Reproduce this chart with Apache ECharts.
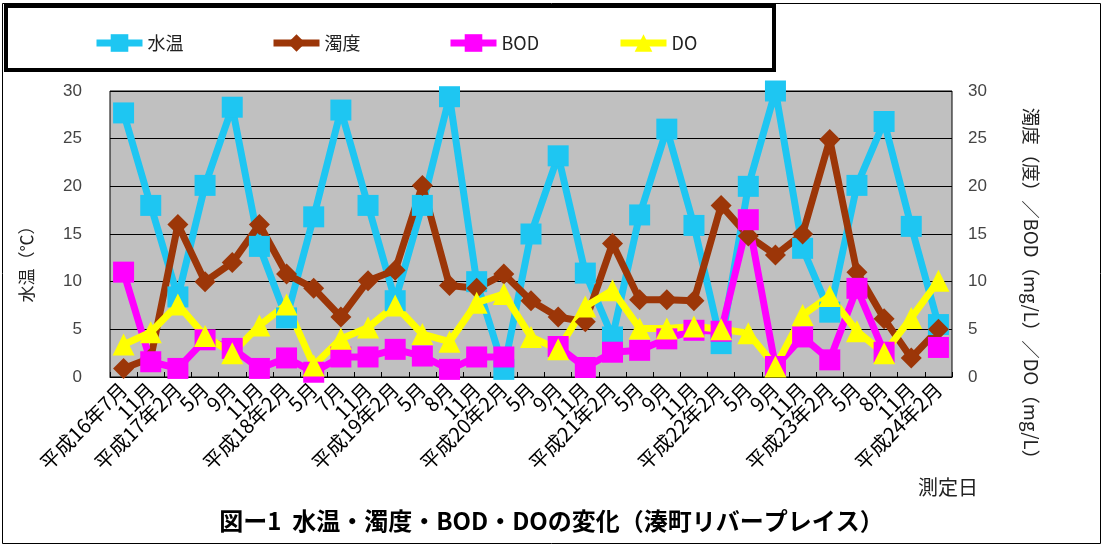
<!DOCTYPE html>
<html>
<head>
<meta charset="utf-8">
<script src="https://cdn.jsdelivr.net/npm/echarts@6/dist/echarts.min.js"></script>
<style>
html,body{margin:0;padding:0;background:#fff;}
#chart{width:1103px;height:545px;}
</style>
</head>
<body>
<div id="chart"></div>
<script>
// 測定日
const categories = ['平成16年7月','11月','平成17年2月','5月','9月','11月','平成18年2月','5月','7月','11月',
  '平成19年2月','5月','8月','11月','平成20年2月','5月','9月','11月','平成21年2月','5月','9月','11月',
  '平成22年2月','5月','9月','11月','平成23年2月','5月','8月','11月','平成24年2月'];

// 水温 (℃)
const waterTemp = [27.7,18.0,8.4,20.1,28.3,13.7,6.2,16.8,28.0,18.0,
  8.0,18.0,29.4,10.0,0.8,15.0,23.2,10.9,4.2,17.0,26.0,15.9,
  3.5,20.0,30.0,13.5,6.8,20.1,26.8,15.8,5.5];

// 濁度 (度)
const turbidity = [0.9,2.0,16.0,10.0,12.0,16.0,10.8,9.3,6.3,10.1,
  11.2,20.1,9.6,9.3,10.8,8.0,6.3,5.8,14.0,8.1,8.1,8.0,
  18.0,14.8,12.8,15.0,24.9,11.0,6.1,2.0,5.0];

// BOD (mg/L) — null は欠測
const bod = [11.0,1.6,0.9,3.9,3.0,0.9,2.0,0.5,2.1,2.1,
  2.9,2.2,0.8,2.1,2.1,null,3.2,1.0,2.6,2.8,4.0,4.9,
  4.8,16.5,1.1,4.2,1.8,9.3,2.6,null,3.1];

// DO (mg/L)
const dissolvedOxygen = [3.4,4.7,7.6,4.3,2.5,5.4,7.6,1.2,4.0,5.2,
  7.5,4.5,3.7,7.8,8.7,4.2,2.9,7.4,9.1,5.1,5.1,5.3,
  5.0,4.6,1.1,6.5,8.5,4.8,2.5,6.2,10.1];

const seriesNames = ['水温', '濁度', 'BOD', 'DO'];
const AXIS_MIN = 0, AXIS_MAX = 30, AXIS_STEP = 5;

const chart = echarts.init(document.getElementById('chart'), null, {renderer: 'canvas'});

const cjk = '"Noto Sans CJK JP", "Noto Sans", sans-serif';
const num = '"Liberation Sans", "DejaVu Sans", sans-serif';

function lineSeries(name, data, color, symbol, size, axis) {
  return {
    name: name,
    type: 'line',
    data: data,
    yAxisIndex: axis,
    symbol: symbol,
    symbolSize: size,
    connectNulls: false,
    lineStyle: {color: color, width: 7},
    itemStyle: {color: color, borderWidth: 0},
    emphasis: {disabled: true},
    animation: false
  };
}

// one legend per series so each entry sits at its own slot in the box
const legendLefts = [88, 265, 442, 612];
const legends = seriesNames.map(function (n, i) {
  return {
    left: legendLefts[i],
    top: 29,
    itemWidth: 46,
    itemHeight: 22,
    z: 10,
    selectedMode: false,
    lineStyle: {width: 7},
    textStyle: {fontFamily: cjk, fontSize: 18, color: '#222'},
    data: [n]
  };
});

chart.setOption({
  backgroundColor: '#ffffff',
  animation: false,
  title: {
    text: '図ー1  水温・濁度・BOD・DOの変化（湊町リバープレイス）',
    left: 'center',
    top: 504,
    textStyle: {fontFamily: cjk, fontSize: 24, fontWeight: 'bold', color: '#000'}
  },
  legend: legends,
  grid: {
    left: 110, right: 151, top: 91, bottom: 168,
    show: true,
    backgroundColor: '#c0c0c0',
    borderColor: '#000',
    borderWidth: 1
  },
  xAxis: {
    type: 'category',
    data: categories,
    boundaryGap: true,
    axisLine: {lineStyle: {color: '#000', width: 1}},
    axisTick: {show: true, inside: true, length: 5, lineStyle: {color: '#000'}},
    axisLabel: {
      interval: 0,
      rotate: 45,
      margin: 9,
      fontFamily: cjk,
      fontSize: 20,
      color: '#000'
    },
    splitLine: {show: false}
  },
  yAxis: [
    {
      type: 'value',
      min: AXIS_MIN, max: AXIS_MAX, interval: AXIS_STEP,
      position: 'left',
      axisLine: {show: false},
      axisTick: {show: false},
      axisLabel: {margin: 28, fontFamily: num, fontSize: 17, color: '#444'},
      splitLine: {show: true, lineStyle: {color: '#000', width: 1}}
    },
    {
      type: 'value',
      min: AXIS_MIN, max: AXIS_MAX, interval: AXIS_STEP,
      position: 'right',
      axisLine: {show: false},
      axisTick: {show: false},
      axisLabel: {margin: 16, fontFamily: num, fontSize: 17, color: '#444'},
      splitLine: {show: false}
    }
  ],
  graphic: [
    {
      type: 'rect', z: -10, silent: true,
      shape: {x: 2.5, y: 3.5, width: 1098, height: 540},
      style: {fill: 'none', stroke: '#000', lineWidth: 1}
    },
    {
      type: 'rect', z: 1, silent: true,
      shape: {x: 6, y: 6, width: 768, height: 64},
      style: {fill: '#fff', stroke: '#000', lineWidth: 4}
    },
    {
      type: 'text', z: 5, silent: true,
      x: 27, y: 260, rotation: Math.PI / 2,
      style: {text: '水温（℃）', fontFamily: cjk, fontSize: 17, fill: '#222', align: 'center', verticalAlign: 'middle'}
    },
    {
      type: 'text', z: 5, silent: true,
      x: 1031, y: 288, rotation: -Math.PI / 2,
      style: {text: '濁度（度）／BOD（mg/L）／DO（mg/L）', fontFamily: cjk, fontSize: 18.5, fill: '#222', align: 'center', verticalAlign: 'middle'}
    },
    {
      type: 'text', z: 5, silent: true,
      x: 918, y: 487,
      style: {text: '測定日', fontFamily: cjk, fontSize: 20, fill: '#222', align: 'left', verticalAlign: 'middle'}
    }
  ],
  series: [
    lineSeries(seriesNames[0], waterTemp, '#1ec6f2', 'rect', 21, 0),
    lineSeries(seriesNames[1], turbidity, '#9c3608', 'diamond', 21, 1),
    lineSeries(seriesNames[2], bod, '#ff00ff', 'rect', 21, 1),
    lineSeries(seriesNames[3], dissolvedOxygen, '#ffff00', 'triangle', 22, 1)
  ]
});
</script>
</body>
</html>
